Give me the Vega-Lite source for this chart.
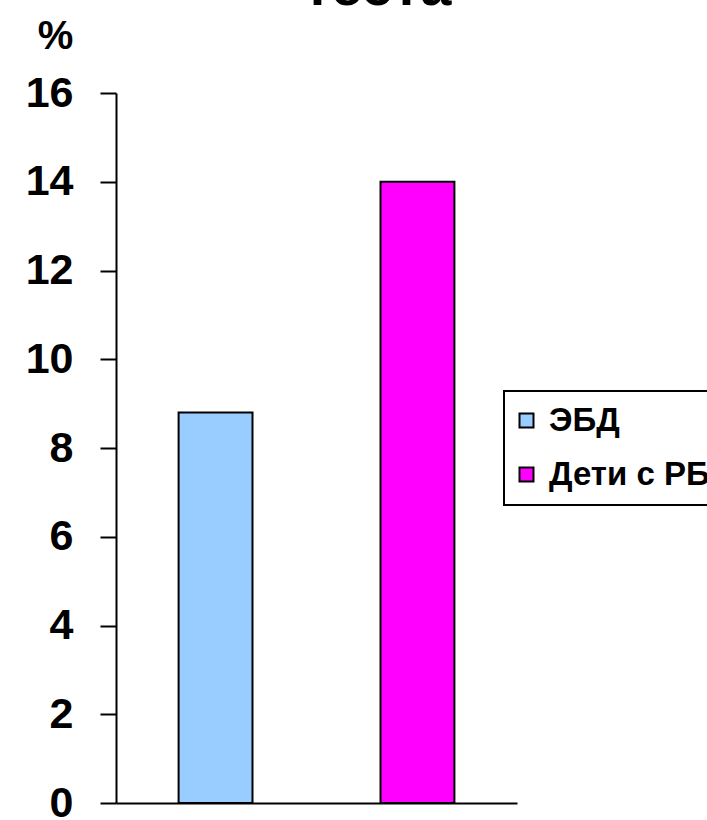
{
  "$schema": "https://vega.github.io/schema/vega-lite/v6.json",
  "autosize": {"type": "none"},
  "padding": {"left": 116, "top": 93, "right": 190, "bottom": 17},
  "width": 401,
  "height": 710,
  "background": "white",
  "title": {
    "text": "теста",
    "font": "Liberation Sans",
    "fontSize": 56,
    "fontWeight": "bold",
    "color": "black",
    "anchor": "middle",
    "baseline": "alphabetic",
    "dx": 61,
    "dy": 45,
    "offset": 0
  },
  "data": {
    "values": [
      {"group": "ЭБД", "value": 8.8},
      {"group": "Дети с РБ", "value": 14}
    ]
  },
  "mark": {"type": "bar", "stroke": "black", "strokeWidth": 2},
  "encoding": {
    "x": {
      "field": "group",
      "type": "nominal",
      "sort": ["ЭБД", "Дети с РБ"],
      "scale": {"paddingInner": 0.634, "paddingOuter": 0.31},
      "axis": {
        "title": null,
        "labels": false,
        "ticks": false,
        "domainColor": "black",
        "domainWidth": 2
      }
    },
    "y": {
      "field": "value",
      "type": "quantitative",
      "scale": {"domain": [0, 16], "nice": false},
      "axis": {
        "values": [0, 2, 4, 6, 8, 10, 12, 14, 16],
        "grid": false,
        "title": "%",
        "titleAngle": 0,
        "titleFont": "Liberation Sans",
        "titleFontSize": 40,
        "titleFontWeight": "bold",
        "titleColor": "black",
        "titleAlign": "center",
        "titleBaseline": "alphabetic",
        "titleX": -61,
        "titleY": -45,
        "labelFont": "Liberation Sans",
        "labelFontSize": 43,
        "labelFontWeight": "bold",
        "labelColor": "black",
        "labelPadding": 27,
        "tickSize": 16,
        "tickWidth": 2,
        "tickColor": "black",
        "domainColor": "black",
        "domainWidth": 2
      }
    },
    "color": {
      "field": "group",
      "type": "nominal",
      "sort": ["ЭБД", "Дети с РБ"],
      "scale": {"domain": ["ЭБД", "Дети с РБ"], "range": ["#99CCFF", "#FF00FF"]},
      "legend": {
        "title": null,
        "orient": "none",
        "legendX": 388,
        "legendY": 298,
        "padding": 13,
        "strokeColor": "black",
        "fillColor": "white",
        "symbolType": "square",
        "symbolSize": 196,
        "symbolStrokeColor": "black",
        "symbolStrokeWidth": 2,
        "symbolOpacity": 1,
        "symbolOffset": -7,
        "labelFont": "Liberation Sans",
        "labelFontSize": 33,
        "labelFontWeight": "bold",
        "labelColor": "black",
        "labelOffset": 6,
        "rowPadding": 20,
        "labelLimit": 400,
        "encode": {"legend": {"update": {"strokeWidth": {"value": 2}}}}
      }
    }
  },
  "config": {"view": {"stroke": null}}
}
